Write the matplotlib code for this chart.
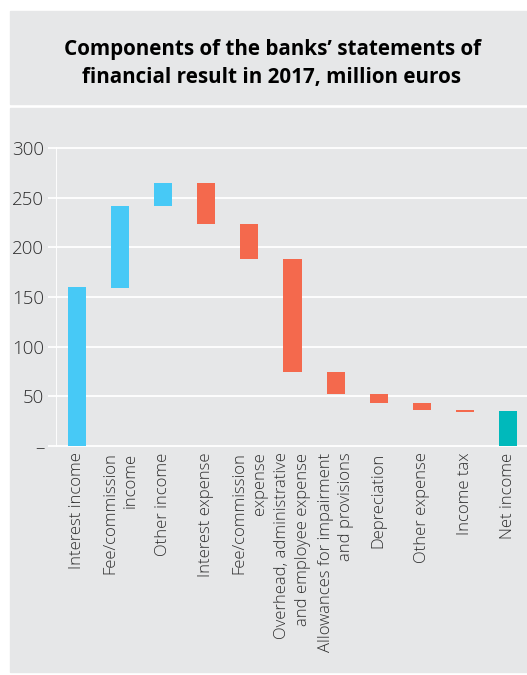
import matplotlib.pyplot as plt
from matplotlib.patches import Rectangle

# Components of the banks' financial result, 2017 (million euros)
categories = [
    "Interest income",
    "Fee/commission\nincome",
    "Other income",
    "Interest expense",
    "Fee/commission\nexpense",
    "Overhead, administrative\nand employee expense",
    "Allowances for impairment\nand provisions",
    "Depreciation",
    "Other expense",
    "Income tax",
    "Net income",
]
bar_bottom = [0, 159, 242, 223, 188, 74, 52, 43, 36, 34, 0]
bar_top = [160, 242, 265, 265, 223, 188, 74, 52, 43, 36, 35]
kind = ["in", "in", "in", "out", "out", "out", "out", "out", "out", "out", "net"]

y_ticks = [0, 50, 100, 150, 200, 250, 300]
y_tick_labels = ["–", "50", "100", "150", "200", "250", "300"]

colors = {"in": "#47c9f6", "out": "#f4694d", "net": "#00b9bb"}
panel = "#e6e7e8"
txt = "#2e2e2e"

plt.rcParams["font.family"] = ["Open Sans", "DejaVu Sans"]

W, H = 527, 675
fig = plt.figure(figsize=(W / 100, H / 100), dpi=100)
fig.patch.set_facecolor("white")

# grey title box and chart box, kept behind the axes
for y0, h in [(104, 93), (672, 564)]:
    fig.patches.append(Rectangle((10 / W, 1 - y0 / H), 1, h / H,
                                 transform=fig.transFigure, color=panel,
                                 zorder=-5))

fig.text(272 / W, 1 - 63.5 / H,
         "Components of the banks’ statements of\nfinancial result in 2017, million euros",
         ha="center", va="center", fontsize=14.9, fontweight="bold",
         color="black", linespacing=1.4)

ax = fig.add_axes([55.5 / W, 1 - 447 / H, (W - 55.5) / W, 300 / H])
ax.set_facecolor(panel)
for s in ax.spines.values():
    s.set_visible(False)
ax.axvline(-0.5, color="white", lw=1.3, zorder=1)

x = list(range(len(categories)))
heights = [t - b for t, b in zip(bar_top, bar_bottom)]
ax.bar(x, heights, bottom=bar_bottom, width=0.42,
       color=[colors[k] for k in kind], zorder=3)

ax.set_xlim(-0.5, 10.44)
ax.set_ylim(-1, 301)
ax.set_yticks(y_ticks)
ax.set_yticklabels(y_tick_labels, fontweight="light")
ax.yaxis.grid(True, color="white", lw=1.3, zorder=0)
ax.tick_params(axis="y", length=6, width=1.3, color="white", pad=2,
               labelsize=13.5, labelcolor=txt)

ax.set_xticks(x)
ax.set_xticklabels(categories, rotation=90, va="top", ha="center",
                   multialignment="right", fontsize=12, color=txt,
                   fontweight="light", linespacing=1.35)
ax.tick_params(axis="x", length=0, pad=4)

fig.savefig("out.png", dpi=100, facecolor=fig.get_facecolor())
